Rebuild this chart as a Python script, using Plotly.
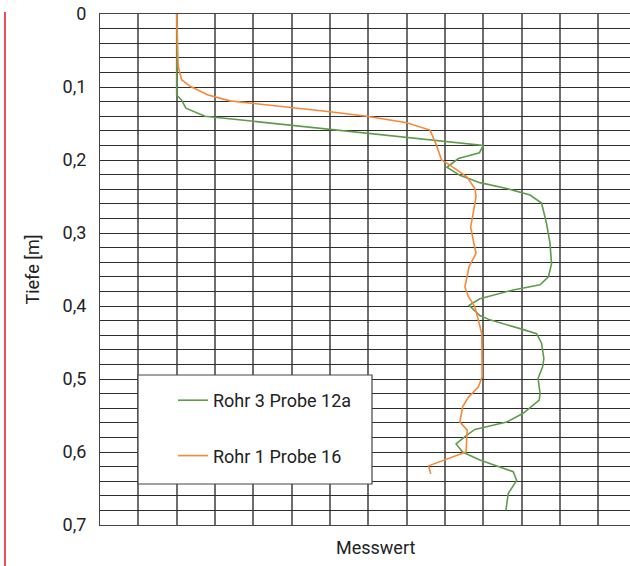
import plotly.graph_objects as go

# Depth (m) and measured value (grid units) for each series
green_depth = [0.0, 0.111, 0.118, 0.129, 0.140, 0.180, 0.190, 0.198, 0.210, 0.221,
               0.231, 0.239, 0.248, 0.259, 0.287, 0.314, 0.342, 0.360, 0.371, 0.378,
               0.390, 0.399, 0.413, 0.419, 0.431, 0.438, 0.451, 0.472, 0.483, 0.499,
               0.520, 0.529, 0.547, 0.559, 0.569, 0.577, 0.589, 0.600, 0.611, 0.627,
               0.639, 0.657, 0.680]
green_value = [2.00, 2.00, 2.13, 2.24, 2.74, 10.00, 9.90, 9.35, 9.05, 9.39,
               9.91, 10.61, 11.22, 11.52, 11.65, 11.74, 11.78, 11.70, 11.48, 10.78,
               9.91, 9.63, 9.91, 10.17, 10.96, 11.39, 11.52, 11.58, 11.55, 11.43,
               11.48, 11.46, 11.04, 10.61, 9.78, 9.57, 9.29, 9.46, 9.91, 10.78,
               10.87, 10.65, 10.59]

orange_depth = [0.0, 0.072, 0.090, 0.099, 0.111, 0.119, 0.134, 0.140, 0.149, 0.159,
                0.180, 0.200, 0.207, 0.223, 0.239, 0.250, 0.278, 0.292, 0.310, 0.328,
                0.346, 0.360, 0.374, 0.387, 0.401, 0.419, 0.438, 0.497, 0.511, 0.525,
                0.538, 0.559, 0.570, 0.600, 0.619, 0.630]
orange_value = [2.00, 2.04, 2.13, 2.35, 2.82, 3.39, 6.00, 6.96, 8.00, 8.61,
                8.78, 8.91, 9.13, 9.57, 9.78, 9.81, 9.72, 9.67, 9.74, 9.81,
                9.63, 9.57, 9.52, 9.61, 9.78, 9.87, 9.96, 9.97, 9.87, 9.61,
                9.46, 9.39, 9.58, 9.55, 8.57, 8.63]

series_names = ["Rohr 3 Probe 12a", "Rohr 1 Probe 16"]

y_grid = [round(i * 0.02, 2) for i in range(36)]
y_major = [0.0, 0.1, 0.2, 0.3, 0.4, 0.5, 0.6, 0.7]
y_major_labels = ["0", "0,1", "0,2", "0,3", "0,4", "0,5", "0,6", "0,7"]
x_grid = list(range(14))

FONT = "Roboto, sans-serif"
FS = 18

ticktext = []
for v in y_grid:
    lab = ""
    for m, t in zip(y_major, y_major_labels):
        if abs(v - m) < 1e-9:
            lab = t
    ticktext.append(lab)

fig = go.Figure()
fig.add_trace(go.Scatter(x=green_value, y=green_depth, mode="lines", name=series_names[0],
                         line=dict(color="#5e9c4c", width=1.6), legendgroup="g1"))
fig.add_trace(go.Scatter(x=orange_value, y=orange_depth, mode="lines", name=series_names[1],
                         line=dict(color="#f5883a", width=1.6), legendgroup="g2"))

W, H = 630, 566
L, R, T, B = 100, 0, 14, 41
pw, ph = W - L - R, H - T - B

def px_x(p):
    return (p - L) / pw

def px_y(p):
    return (H - B - p) / ph

fig.update_layout(
    width=W, height=H,
    margin=dict(l=L, r=R, t=T, b=B),
    paper_bgcolor="white", plot_bgcolor="white",
    font=dict(family=FONT, size=FS, color="#222222"),
    showlegend=True,
    legend=dict(x=px_x(173), y=px_y(382), xanchor="left", yanchor="top",
                bgcolor="rgba(0,0,0,0)", borderwidth=0, tracegroupgap=29,
                font=dict(family=FONT, size=FS, color="#222222")),
    xaxis=dict(range=[0, pw / 38.33], tickvals=x_grid, showticklabels=False, ticks="",
               showgrid=True, gridcolor="#6e6e6e", gridwidth=1.6, zeroline=False,
               showline=True, linecolor="#444444", linewidth=1.2, mirror=True),
    yaxis=dict(range=[0.7, 0], tickvals=y_grid, ticktext=ticktext, ticks="",
               ticklabelstandoff=9, showgrid=True, gridcolor="#2e2e2e", gridwidth=1.1,
               zeroline=False, showline=True, linecolor="#444444", linewidth=1.2,
               title=dict(text="Tiefe [m]", standoff=18, font=dict(size=FS))),
    shapes=[
        dict(type="line", xref="paper", yref="paper", x0=px_x(5), x1=px_x(5),
             y0=px_y(12), y1=px_y(566), line=dict(color="#e4505c", width=2)),
        dict(type="rect", xref="paper", yref="paper", x0=px_x(138), x1=px_x(372),
             y0=px_y(484), y1=px_y(375), fillcolor="white",
             line=dict(color="#444444", width=1.2), layer="above"),
    ],
    annotations=[
        dict(text="Messwert", xref="paper", yref="paper", x=px_x(375), y=px_y(547),
             xanchor="center", yanchor="middle", showarrow=False,
             font=dict(family=FONT, size=FS, color="#222222")),
    ],
)

fig.write_html("out.html")
